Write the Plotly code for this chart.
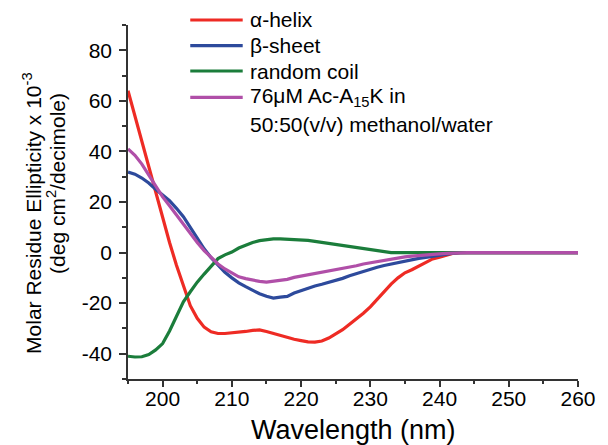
import plotly.graph_objects as go

wavelength = list(range(195, 261))

alpha_helix = [64, 54, 44, 33.5, 23, 13, 4, -5, -13, -21, -26, -29.5, -31.3, -32, -32,
               -31.8, -31.5, -31.2, -30.8, -30.6, -31.2, -32, -32.8, -33.6, -34.3, -34.8,
               -35.3, -35.4, -35, -33.8, -32.3, -30.5, -28.3, -26.2, -24, -21.5, -18.5,
               -15.3, -12.5, -10, -8, -6.8, -5.3, -4, -2.5, -1.8, -1, -0.3] + [0] * 18

beta_sheet = [31.8, 31, 29.5, 27.5, 25, 22.8, 20.5, 17.5, 14.2, 10, 5.5, 1.5, -2, -5, -7.8,
              -10, -12, -13.5, -15, -16.3, -17.3, -18, -17.6, -17.3, -16, -15, -14, -13.2,
              -12.5, -11.8, -11, -10.2, -9.2, -8.3, -7.5, -6.8, -5.8, -5.1, -4.5, -3.8,
              -3.2, -2.8, -2.3, -1.9, -1.4, -0.9, -0.5, -0.2] + [0] * 18

random_coil = [-41, -41.3, -41.2, -40.3, -38.5, -36, -31, -25.5, -19.5, -15.5, -11.7, -8.5,
               -5.3, -2.4, -0.9, 0.2, 1.8, 3, 4, 4.7, 5.2, 5.4, 5.4, 5.3, 5.2, 5.1, 4.8, 4.4,
               4, 3.6, 3.2, 2.7, 2.2, 1.8, 1.4, 1, 0.5, 0.1] + [0] * 28

peptide = [41, 38.5, 35, 30.5, 26.3, 22, 18.5, 14.8, 11, 7.3, 4, 0.8, -2, -4.5, -6.5, -8.2,
           -9.6, -10.3, -11, -11.4, -11.7, -11.4, -11, -10.6, -9.8, -9.3, -9, -8.5, -7.8,
           -7.4, -7, -6.5, -5.8, -5.2, -4.5, -4, -3.4, -2.9, -2.5, -2.1, -1.7, -1.4, -1.1,
           -0.9, -0.7, -0.5, -0.3, -0.1] + [0] * 18

series_names = ["α-helix", "β-sheet", "random coil", "76μM Ac-A<sub>15</sub>K in"]
legend_extra = "50:50(v/v) methanol/water"
colors = ["#EE2B24", "#2D4A9C", "#1B7D3B", "#B04FA8"]
series = [alpha_helix, beta_sheet, random_coil, peptide]

x_ticks = [200, 210, 220, 230, 240, 250, 260]
y_ticks = [-40, -20, 0, 20, 40, 60, 80]
y_tick_labels = ["-40", "-20", "0", "20", "40", "60", "80"]

W, H = 608, 445
L, R, T, B = 128, 21, 25, 66
PW, PH = W - L - R, H - T - B


def px(x):
    return (x - L) / PW


def py(y):
    return (H - B - y) / PH


FONT = "Arial, Liberation Sans, sans-serif"

fig = go.Figure()
for name, c, ys in zip(series_names, colors, series):
    fig.add_trace(go.Scatter(x=wavelength, y=ys, mode="lines", name=name,
                             line=dict(color=c, width=3.2), showlegend=False))

# manual legend
leg_y = [20, 45.7, 71, 97.3]
for i, (name, c) in enumerate(zip(series_names, colors)):
    fig.add_shape(type="line", xref="paper", yref="paper",
                  x0=px(191.5), x1=px(245), y0=py(leg_y[i]), y1=py(leg_y[i]),
                  line=dict(color=c, width=3.2))
    fig.add_annotation(xref="paper", yref="paper", x=px(250), y=py(leg_y[i]),
                       text=name, showarrow=False, xanchor="left", yanchor="middle",
                       font=dict(family=FONT, size=21, color="black"))
fig.add_annotation(xref="paper", yref="paper", x=px(250), y=py(124),
                   text=legend_extra, showarrow=False, xanchor="left", yanchor="middle",
                   font=dict(family=FONT, size=21, color="black"))

# y-axis title (two lines)
fig.add_annotation(xref="paper", yref="paper", x=px(30), y=py(213), textangle=-90,
                   text="Molar Residue Ellipticity x 10<sup>-3</sup>", showarrow=False,
                   xanchor="center", yanchor="middle",
                   font=dict(family=FONT, size=21, color="black"))
fig.add_annotation(xref="paper", yref="paper", x=px(55), y=py(183.5), textangle=-90,
                   text="(deg cm<sup>2</sup>/decimole)", showarrow=False,
                   xanchor="center", yanchor="middle",
                   font=dict(family=FONT, size=21, color="black"))
# x-axis title
fig.add_annotation(xref="paper", yref="paper", x=px(358), y=py(430),
                   text="Wavelength (nm)", showarrow=False,
                   xanchor="center", yanchor="middle",
                   font=dict(family=FONT, size=27, color="black"))

axis_common = dict(showgrid=False, zeroline=False, showline=True, linecolor="#333333",
                   linewidth=1.5, ticks="outside", tickcolor="#333333", tickwidth=1.5,
                   tickfont=dict(family=FONT, size=21, color="black"), mirror=False)

fig.update_xaxes(range=[195, 260], tickvals=x_ticks, ticklen=6,
                 minor=dict(dtick=5, tick0=195, ticklen=3, ticks="outside",
                            tickcolor="#333333", tickwidth=1.5),
                 ticklabelstandoff=-6,
                 **axis_common)
fig.update_yaxes(range=[-50, 90], tickvals=y_ticks, ticktext=y_tick_labels, ticklen=7,
                 minor=dict(dtick=10, tick0=-50, ticklen=4, ticks="outside",
                            tickcolor="#333333", tickwidth=1.5),
                 ticklabelstandoff=3,
                 **axis_common)

fig.update_layout(width=W, height=H, margin=dict(l=L, r=R, t=T, b=B, pad=0),
                  plot_bgcolor="white", paper_bgcolor="white",
                  font=dict(family=FONT, color="black"))

fig.write_html("out.html", config={"displayModeBar": False},
               post_script="document.body.style.margin='0';document.body.style.overflow='hidden';")
